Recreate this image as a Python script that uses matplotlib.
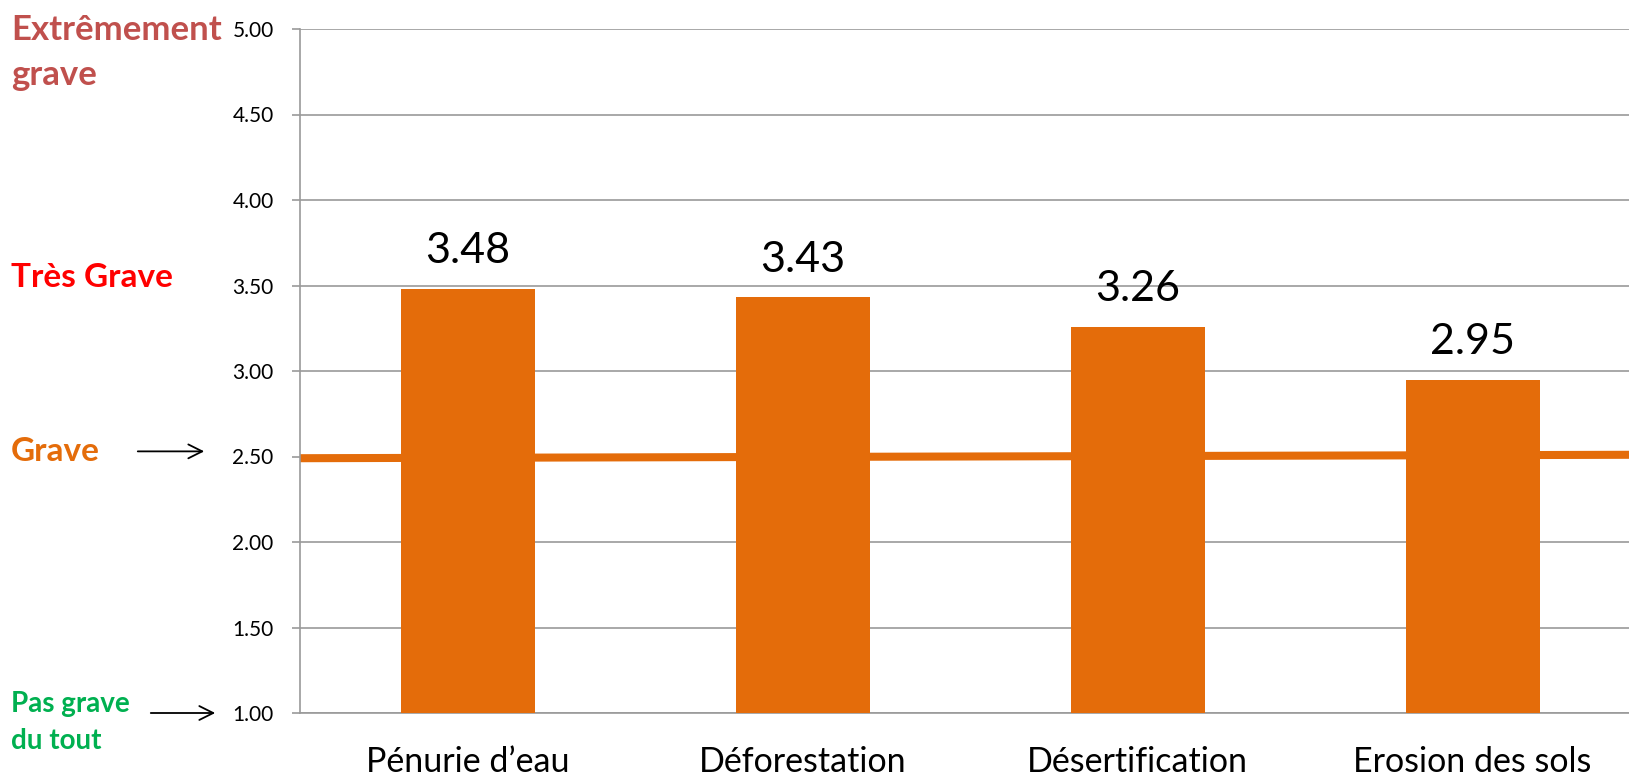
import numpy as np
import matplotlib.pyplot as plt
import matplotlib.transforms as mtransforms

categories = ['Pénurie d’eau', 'Déforestation', 'Désertification', 'Erosion des sols']
scores = [3.48, 3.43, 3.26, 2.95]
grave_level = [2.49, 2.51]   # reference line, left edge -> right edge
yticks = [1.0, 1.5, 2.0, 2.5, 3.0, 3.5, 4.0, 4.5, 5.0]
scale_labels = ['Extrêmement\ngrave', 'Très Grave', 'Grave', 'Pas grave\ndu tout']
scale_levels = [4.86, 3.545, 2.53, 0.945]
scale_colors = ['#C0504D', '#FF0000', '#E46C0A', '#00B050']
scale_sizes = [25, 24, 24, 20]

orange = '#E46C0A'
grid_c = '#9A9A9A'

plt.rcParams['font.family'] = ['Lato', 'DejaVu Sans']

fig = plt.figure(figsize=(16.29, 7.76), dpi=100)
ax = fig.add_axes([300/1629, 1 - 713/776, 1 - 300/1629, (713 - 29)/776])

x = np.arange(len(categories))
xlim = (-0.5, 3.467)

# the "Grave" line sits behind the bars
ax.plot(xlim, grave_level, color=orange, linewidth=5.8, solid_capstyle='butt', zorder=2)
ax.bar(x, scores, width=0.4, color=orange, zorder=3)

for xi, v in zip(x, scores):
    ax.annotate('%.2f' % v, (xi, v), xytext=(0, 27), textcoords='offset points',
                ha='center', va='center', fontsize=31, color='black')

ax.set_xlim(xlim)
ax.set_ylim(1.0, 5.0)
ax.set_yticks(yticks)
ax.set_yticklabels(['%.2f' % t for t in yticks], fontsize=15)
ax.set_xticks(x)
ax.set_xticklabels(categories, fontsize=24.5)
ax.tick_params(axis='x', length=0, pad=24)
ax.tick_params(axis='y', length=6, width=1.2, color=grid_c, pad=13)
ax.yaxis.grid(True, color=grid_c, linewidth=1.2, zorder=0)
ax.set_axisbelow(True)
for s in ['top', 'right']:
    ax.spines[s].set_visible(False)
for s in ['left', 'bottom']:
    ax.spines[s].set_color(grid_c)
    ax.spines[s].set_linewidth(1.2)

# severity scale on the left
trans = mtransforms.blended_transform_factory(fig.transFigure, ax.transData)
for lab, lev, c, fs in zip(scale_labels, scale_levels, scale_colors, scale_sizes):
    fig.text(11/1629, lev, lab, transform=trans, color=c, fontsize=fs,
             fontweight='bold', ha='left', va='center', linespacing=1.5)

ax.annotate('', xy=(207/1629, 2.53), xycoords=('figure fraction', 'data'),
            xytext=(135/1629, 2.53), textcoords=('figure fraction', 'data'),
            arrowprops=dict(arrowstyle='->', color='black', lw=1.3, mutation_scale=25),
            annotation_clip=False)
ax.annotate('', xy=(218/1629, 1.0), xycoords=('figure fraction', 'data'),
            xytext=(148/1629, 1.0), textcoords=('figure fraction', 'data'),
            arrowprops=dict(arrowstyle='->', color='black', lw=1.3, mutation_scale=25),
            annotation_clip=False)

fig.savefig('out.png', dpi=100)
